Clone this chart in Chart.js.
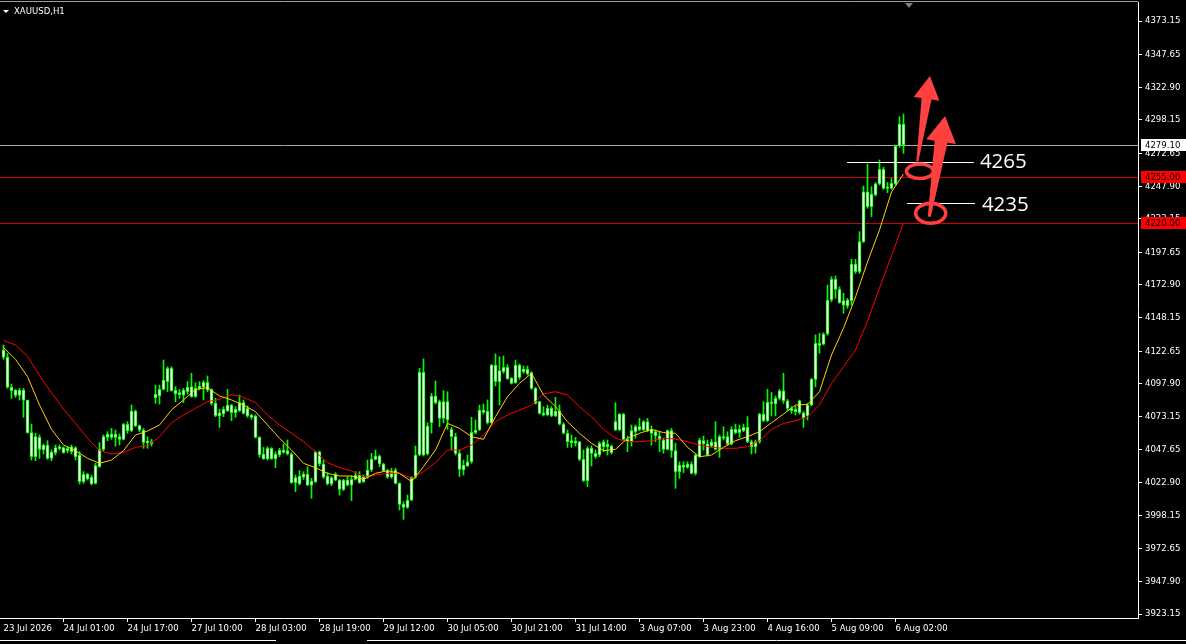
<!DOCTYPE html>
<html>
<head>
<meta charset="utf-8">
<title>XAUUSD,H1</title>
<script src="https://cdn.jsdelivr.net/npm/chart.js@4.4.0/dist/chart.umd.min.js"></script>
<style>
  html, body { margin: 0; padding: 0; background: #000; overflow: hidden; }
  canvas { display: block; }
</style>
</head>
<body>
<canvas id="chart" width="1186" height="644"></canvas>
<script>
const titulo = 'XAUUSD,H1';

// velas H1: 23 Jul 09:00 -> 6 Aug 04:00 (226 velas)
const opens = [
  4123.5, 4117.9, 4095.2, 4093.1, 4089.1, 4093.1, 4085.5, 4060.8, 4042.5, 4057.2,
  4047.6, 4051.4, 4041.3, 4045.6, 4048.6, 4049.4, 4046.9, 4050.1, 4049.4, 4043.8,
  4023.6, 4029.1, 4026.9, 4022.3, 4035.0, 4048.1, 4057.2, 4059.7, 4057.2, 4057.7,
  4055.7, 4067.1, 4062.3, 4077.2, 4066.1, 4062.8, 4053.2, 4053.9, 4087.3, 4088.6,
  4093.6, 4099.5, 4109.6, 4093.1, 4089.6, 4089.3, 4091.9, 4095.7, 4088.1, 4094.4,
  4095.2, 4099.0, 4093.6, 4083.0, 4073.4, 4074.9, 4077.2, 4081.7, 4075.9, 4077.4,
  4083.5, 4079.2, 4072.4, 4073.4, 4057.2, 4044.6, 4040.8, 4048.9, 4040.8, 4043.8,
  4045.8, 4047.1, 4044.6, 4022.8, 4021.8, 4026.9, 4029.4, 4021.0, 4023.6, 4046.3,
  4037.0, 4027.9, 4021.8, 4029.1, 4024.8, 4017.7, 4024.8, 4021.0, 4025.3, 4028.6,
  4023.6, 4026.9, 4032.4, 4040.5, 4043.0, 4037.0, 4031.9, 4026.9, 4032.4, 4022.3,
  4006.6, 4004.1, 4009.6, 4026.9, 4043.8, 4106.5, 4044.6, 4068.3, 4088.6, 4084.3,
  4071.6, 4084.3, 4063.3, 4057.7, 4045.1, 4032.4, 4035.5, 4038.7, 4060.7, 4062.8,
  4077.9, 4077.2, 4068.3, 4112.1, 4099.5, 4107.0, 4110.3, 4102.0, 4098.7, 4112.1,
  4107.0, 4108.8, 4106.3, 4094.4, 4084.3, 4075.9, 4074.2, 4079.2, 4073.4, 4077.4,
  4067.3, 4060.3, 4054.7, 4052.7, 4053.9, 4040.5, 4024.3, 4048.9, 4045.1, 4043.8,
  4053.9, 4050.1, 4050.6, 4069.1, 4062.8, 4074.9, 4055.7, 4054.0, 4061.5, 4065.3,
  4062.8, 4069.1, 4063.3, 4061.5, 4058.2, 4055.2, 4048.1, 4062.3, 4047.1, 4031.2,
  4036.2, 4034.4, 4037.0, 4029.9, 4042.5, 4054.7, 4052.2, 4050.6, 4053.9, 4048.1,
  4057.7, 4057.7, 4052.2, 4063.3, 4060.8, 4062.3, 4064.8, 4053.9, 4050.1, 4053.9,
  4074.9, 4069.8, 4083.8, 4082.5, 4086.8, 4092.6, 4085.0, 4079.2, 4076.7, 4085.0,
  4075.9, 4073.4, 4081.7, 4101.2, 4128.5, 4128.0, 4135.6, 4161.4, 4177.1, 4169.5,
  4160.9, 4156.9, 4160.9, 4188.7, 4182.9, 4205.7, 4243.6, 4232.2, 4241.1, 4249.5,
  4260.6, 4246.2, 4246.2, 4249.5, 4278.3, 4295.0
];
const highs = [
  4127.3, 4121.0, 4097.7, 4093.6, 4094.4, 4094.4, 4085.5, 4067.3, 4060.3, 4059.0,
  4052.2, 4054.7, 4047.6, 4051.4, 4051.4, 4050.1, 4050.1, 4051.4, 4050.1, 4046.3,
  4031.2, 4029.9, 4028.6, 4037.5, 4053.2, 4059.0, 4061.5, 4064.0, 4062.8, 4059.7,
  4067.8, 4069.1, 4081.8, 4078.0, 4066.6, 4064.0, 4057.7, 4055.7, 4096.9, 4096.9,
  4115.9, 4110.8, 4110.8, 4095.7, 4093.6, 4094.4, 4099.5, 4105.8, 4098.7, 4099.5,
  4100.2, 4103.8, 4094.0, 4086.8, 4078.5, 4080.5, 4093.6, 4082.2, 4080.5, 4089.3,
  4085.6, 4081.0, 4074.9, 4074.2, 4057.7, 4049.6, 4050.1, 4049.4, 4046.3, 4048.9,
  4052.2, 4055.2, 4045.6, 4028.6, 4031.9, 4031.2, 4034.9, 4026.1, 4046.8, 4046.8,
  4040.0, 4030.4, 4027.4, 4030.4, 4025.3, 4025.3, 4027.4, 4027.9, 4031.2, 4031.2,
  4028.6, 4040.0, 4045.1, 4047.6, 4043.8, 4037.5, 4032.9, 4033.7, 4033.7, 4022.8,
  4008.4, 4013.4, 4027.4, 4050.6, 4109.6, 4116.7, 4068.3, 4090.6, 4100.0, 4085.6,
  4092.6, 4091.9, 4064.8, 4060.3, 4047.6, 4040.0, 4043.8, 4072.4, 4070.4, 4081.7,
  4082.5, 4085.6, 4112.6, 4120.5, 4118.4, 4118.9, 4112.4, 4102.7, 4115.9, 4112.9,
  4111.3, 4111.3, 4107.0, 4095.2, 4084.5, 4080.5, 4081.7, 4080.5, 4087.6, 4081.7,
  4068.3, 4062.8, 4059.0, 4057.2, 4054.2, 4047.6, 4050.1, 4050.6, 4047.6, 4053.9,
  4055.2, 4055.2, 4051.4, 4083.5, 4075.4, 4075.4, 4058.2, 4066.6, 4066.6, 4071.6,
  4069.9, 4071.6, 4065.8, 4062.8, 4061.5, 4056.5, 4062.8, 4064.0, 4052.7, 4038.7,
  4038.7, 4038.7, 4038.7, 4044.6, 4056.5, 4058.2, 4055.2, 4055.7, 4069.1, 4059.0,
  4065.3, 4061.5, 4065.3, 4067.3, 4066.6, 4067.3, 4072.9, 4055.2, 4055.2, 4075.4,
  4084.3, 4093.6, 4091.3, 4088.6, 4093.6, 4105.8, 4086.0, 4080.5, 4081.0, 4085.5,
  4076.7, 4083.0, 4102.0, 4134.9, 4136.1, 4136.6, 4172.8, 4179.1, 4179.6, 4171.5,
  4166.5, 4162.7, 4192.3, 4192.3, 4213.3, 4247.9, 4264.6, 4247.4, 4250.5, 4267.7,
  4262.1, 4250.5, 4253.7, 4279.1, 4300.6, 4302.6
];
const lows = [
  4116.4, 4094.4, 4086.8, 4087.6, 4085.5, 4072.4, 4060.3, 4040.0, 4039.5, 4041.3,
  4044.6, 4040.5, 4039.5, 4043.8, 4047.6, 4045.1, 4045.6, 4044.6, 4040.0, 4021.8,
  4022.3, 4024.8, 4021.0, 4021.8, 4034.4, 4047.1, 4054.7, 4055.7, 4050.6, 4051.4,
  4055.2, 4060.3, 4061.5, 4065.3, 4061.5, 4048.9, 4048.9, 4050.6, 4083.0, 4082.5,
  4093.1, 4091.9, 4092.1, 4084.3, 4086.8, 4083.5, 4090.1, 4087.6, 4087.6, 4093.1,
  4085.6, 4091.9, 4081.7, 4072.9, 4064.8, 4072.9, 4076.7, 4069.9, 4072.4, 4076.7,
  4074.9, 4072.4, 4070.9, 4056.7, 4042.0, 4040.5, 4040.0, 4040.5, 4034.2, 4042.5,
  4045.1, 4043.8, 4022.3, 4016.0, 4021.0, 4025.3, 4020.5, 4010.9, 4022.8, 4035.5,
  4026.1, 4021.0, 4020.5, 4024.3, 4013.4, 4016.7, 4020.3, 4009.1, 4024.8, 4022.3,
  4022.8, 4026.1, 4031.2, 4040.0, 4035.0, 4031.2, 4026.1, 4026.1, 4021.8, 4002.1,
  3995.0, 4003.3, 4009.1, 4026.1, 4043.3, 4043.0, 4043.8, 4060.3, 4082.5, 4065.3,
  4068.3, 4063.3, 4047.6, 4043.8, 4027.4, 4028.6, 4035.0, 4037.5, 4059.7, 4062.3,
  4074.9, 4067.3, 4067.8, 4096.2, 4081.7, 4105.8, 4101.2, 4097.7, 4098.2, 4101.2,
  4105.8, 4104.5, 4093.6, 4082.5, 4074.9, 4073.4, 4073.4, 4072.9, 4072.9, 4066.6,
  4059.7, 4049.6, 4049.6, 4050.6, 4039.5, 4023.6, 4019.8, 4035.5, 4041.3, 4042.5,
  4046.3, 4043.8, 4044.6, 4062.3, 4062.3, 4054.7, 4046.3, 4050.6, 4056.5, 4062.3,
  4062.3, 4061.5, 4051.4, 4053.9, 4046.3, 4045.1, 4047.6, 4042.0, 4018.5, 4026.1,
  4030.4, 4033.7, 4029.4, 4028.6, 4042.0, 4047.6, 4043.0, 4049.6, 4047.6, 4042.0,
  4055.2, 4051.4, 4051.4, 4059.8, 4057.2, 4061.5, 4053.2, 4044.6, 4045.1, 4052.7,
  4069.1, 4069.1, 4073.4, 4073.4, 4085.6, 4083.0, 4077.4, 4075.4, 4074.2, 4074.9,
  4064.8, 4070.4, 4081.2, 4095.6, 4121.0, 4127.3, 4134.8, 4160.1, 4162.7, 4158.9,
  4151.3, 4155.1, 4157.6, 4181.6, 4181.6, 4204.9, 4231.0, 4224.7, 4240.3, 4248.7,
  4245.4, 4242.9, 4245.4, 4248.7, 4277.3, 4272.7
];
const closes = [
  4117.9, 4095.2, 4092.6, 4089.1, 4093.1, 4085.5, 4060.8, 4042.5, 4057.7, 4048.1,
  4051.4, 4041.3, 4046.1, 4049.4, 4050.1, 4045.6, 4048.9, 4046.3, 4042.5, 4023.6,
  4029.1, 4025.6, 4021.8, 4035.7, 4048.1, 4057.7, 4059.7, 4057.2, 4059.7, 4055.7,
  4067.1, 4062.3, 4077.2, 4065.8, 4062.8, 4053.4, 4054.4, 4052.2, 4089.8, 4093.6,
  4100.7, 4109.6, 4092.6, 4090.1, 4091.1, 4093.1, 4095.2, 4088.1, 4094.4, 4096.2,
  4099.0, 4093.1, 4083.0, 4073.7, 4075.9, 4078.5, 4081.7, 4075.9, 4078.5, 4083.5,
  4075.4, 4073.4, 4074.2, 4057.2, 4043.8, 4040.8, 4048.9, 4040.8, 4044.6, 4047.6,
  4047.6, 4044.6, 4022.8, 4026.6, 4027.9, 4029.4, 4021.0, 4024.1, 4046.3, 4037.0,
  4026.9, 4021.8, 4026.6, 4024.8, 4017.7, 4024.8, 4021.0, 4025.3, 4028.6, 4022.8,
  4027.4, 4032.4, 4040.8, 4043.0, 4037.0, 4031.9, 4026.9, 4030.4, 4022.3, 4006.4,
  4004.1, 4009.6, 4026.9, 4043.8, 4106.5, 4043.8, 4065.8, 4088.6, 4083.5, 4071.6,
  4084.3, 4070.4, 4057.7, 4045.1, 4032.9, 4036.2, 4038.7, 4061.0, 4062.8, 4077.9,
  4076.2, 4068.3, 4112.1, 4099.5, 4107.8, 4110.3, 4101.5, 4098.2, 4112.1, 4102.7,
  4109.1, 4105.3, 4094.4, 4083.0, 4075.4, 4074.2, 4079.2, 4073.4, 4077.2, 4067.3,
  4060.3, 4053.9, 4053.2, 4054.4, 4040.5, 4024.3, 4048.9, 4045.1, 4042.5, 4052.7,
  4050.1, 4052.0, 4045.6, 4062.8, 4074.9, 4055.7, 4054.0, 4062.3, 4065.3, 4062.8,
  4069.1, 4062.3, 4060.2, 4058.2, 4055.2, 4048.1, 4062.3, 4047.1, 4031.2, 4036.2,
  4034.4, 4037.0, 4029.9, 4043.8, 4055.2, 4052.2, 4043.8, 4053.9, 4048.1, 4057.7,
  4056.5, 4052.2, 4063.3, 4060.8, 4063.3, 4064.8, 4053.9, 4050.1, 4053.9, 4074.9,
  4069.8, 4083.8, 4083.0, 4086.8, 4092.6, 4085.0, 4079.2, 4077.4, 4078.4, 4075.9,
  4071.6, 4081.7, 4101.2, 4128.5, 4127.0, 4135.6, 4161.4, 4177.1, 4169.5, 4159.4,
  4157.6, 4161.4, 4188.7, 4182.9, 4205.7, 4243.6, 4232.2, 4241.9, 4249.5, 4260.6,
  4246.2, 4247.4, 4250.0, 4278.3, 4295.0, 4279.1
];

// medias móviles, una muestra cada 3 velas
const maBars = [
  0, 3, 6, 9, 12, 15, 18, 21, 24, 27, 30, 33, 36, 39, 42, 45, 48, 51, 54, 57,
  60, 63, 66, 69, 72, 75, 78, 81, 84, 87, 90, 93, 96, 99, 102, 105, 108, 111, 114, 117,
  120, 123, 126, 129, 132, 135, 138, 141, 144, 147, 150, 153, 156, 159, 162, 165, 168, 171, 174, 177,
  180, 183, 186, 189, 192, 195, 198, 201, 204, 207, 210, 213, 216, 219, 222, 225
];
const maFast = [
  4125.5, 4116.4, 4103.3, 4081.8, 4063.3, 4051.4, 4047.1, 4041.3, 4037.5, 4040.0,
  4047.1, 4059.0, 4062.0, 4066.6, 4078.0, 4085.6, 4093.6, 4094.9, 4088.6, 4085.6,
  4081.7, 4076.7, 4066.6, 4056.5, 4047.6, 4037.5, 4034.2, 4029.9, 4027.9, 4027.9,
  4025.3, 4029.9, 4031.9, 4029.9, 4023.6, 4035.0, 4047.6, 4067.8, 4064.0, 4057.7,
  4055.7, 4072.9, 4088.1, 4098.2, 4105.8, 4089.3, 4080.5, 4069.1, 4060.3, 4052.7,
  4047.1, 4048.1, 4056.5, 4060.3, 4063.3, 4060.8, 4060.3, 4049.6, 4042.5, 4043.8,
  4049.6, 4054.7, 4057.7, 4061.5, 4068.3, 4074.9, 4081.7, 4082.2, 4091.9, 4119.7,
  4140.0, 4163.7, 4190.3, 4214.6, 4243.4, 4257.0
];
const maSlow = [
  4130.6, 4127.3, 4118.9, 4104.0, 4091.1, 4078.7, 4067.8, 4056.5, 4047.1, 4044.6,
  4045.8, 4049.6, 4050.9, 4057.7, 4068.3, 4074.2, 4079.2, 4084.3, 4086.0, 4089.8,
  4087.6, 4083.5, 4074.2, 4066.6, 4060.3, 4053.9, 4046.3, 4038.0, 4034.4, 4031.7,
  4027.4, 4028.6, 4029.9, 4029.9, 4026.1, 4031.2, 4038.0, 4047.6, 4047.6, 4051.4,
  4059.0, 4069.1, 4074.2, 4077.9, 4081.7, 4090.1, 4091.9, 4089.3, 4080.5, 4072.9,
  4063.3, 4056.5, 4053.9, 4053.9, 4054.7, 4056.5, 4055.9, 4053.9, 4051.4, 4049.6,
  4048.9, 4048.9, 4050.1, 4054.7, 4063.3, 4067.8, 4069.8, 4072.9, 4081.7, 4098.2,
  4110.8, 4123.5, 4145.5, 4170.5, 4195.0, 4219.9
];

// eje de tiempo y eje de precios
const timeTickBars = [0, 15, 31, 47, 63, 79, 95, 111, 127, 143, 159, 175, 191, 207, 223];
const timeTickLabels = ['23 Jul 2026', '24 Jul 01:00', '24 Jul 17:00', '27 Jul 10:00', '28 Jul 03:00',
  '28 Jul 19:00', '29 Jul 12:00', '30 Jul 05:00', '30 Jul 21:00', '31 Jul 14:00', '3 Aug 07:00',
  '3 Aug 23:00', '4 Aug 16:00', '5 Aug 09:00', '6 Aug 02:00'];
const priceTicks = [4373.15, 4347.65, 4322.90, 4298.15, 4272.65, 4247.90, 4223.15, 4197.65, 4172.90,
  4148.15, 4122.65, 4097.90, 4073.15, 4047.65, 4022.90, 3998.15, 3972.65, 3947.90, 3923.15];

// niveles y dibujos
const bidPrice = 4279.10;
const redLevels = [4255.00, 4220.00];
const whiteLevels = [4266.0, 4234.7];
const whiteFrom = [210.9, 225.9];
const whiteTo = [242.6, 242.9];
const levelTexts = ['4265', '4235'];
const levelTextBar = [244.1, 244.6];
const levelTextPrice = [4266.2, 4233.6];

const familia = "'DejaVu Sans Condensed', 'Liberation Sans', sans-serif";
const fontTicks = '9.5px ' + familia;
const verde = '#00ff00';
const rojoDibujo = '#ff4040';

const wickData = highs.map((h, i) => ({ x: i, y: [lows[i], h] }));
const bodyData = opens.map((o, i) => ({ x: i, y: [Math.min(o, closes[i]), Math.max(o, closes[i])] }));
const fastData = maBars.map((b, k) => ({ x: b, y: maFast[k] }));
const slowData = maBars.map((b, k) => ({ x: b, y: maSlow[k] }));

function flecha(c, x0, y0, x1, y1, head, half, neck, tail) {
  const dx = x1 - x0, dy = y1 - y0, len = Math.hypot(dx, dy);
  const ux = dx / len, uy = dy / len, nx = -uy, ny = ux;
  const bx = x1 - ux * head, by = y1 - uy * head;
  c.beginPath();
  c.moveTo(x0 + nx * tail, y0 + ny * tail);
  c.lineTo(bx + nx * neck, by + ny * neck);
  c.lineTo(bx + nx * half, by + ny * half);
  c.lineTo(x1, y1);
  c.lineTo(bx - nx * half, by - ny * half);
  c.lineTo(bx - nx * neck, by - ny * neck);
  c.lineTo(x0 - nx * tail, y0 - ny * tail);
  c.closePath();
  c.fill();
}

const dibujos = {
  id: 'dibujos',
  beforeDraw(chart) {
    const c = chart.ctx;
    c.save();
    c.fillStyle = '#000';
    c.fillRect(0, 0, chart.width, chart.height);
    c.restore();
  },
  beforeDatasetsDraw(chart) {
    const { ctx: c, chartArea: a, scales: { y } } = chart;
    c.save();
    c.lineWidth = 1;
    const linea = (v, color) => {
      const py = Math.round(y.getPixelForValue(v)) + 0.5;
      c.strokeStyle = color;
      c.beginPath(); c.moveTo(a.left, py); c.lineTo(a.right, py); c.stroke();
    };
    linea(bidPrice, '#a8a8a8');
    redLevels.forEach(v => linea(v, '#d00000'));
    c.restore();
  },
  afterDatasetsDraw(chart) {
    const { ctx: c, scales: { x, y } } = chart;
    c.save();
    // líneas blancas cortas
    c.strokeStyle = '#ffffff';
    c.lineWidth = 1;
    whiteLevels.forEach((v, k) => {
      const py = Math.round(y.getPixelForValue(v)) + 0.5;
      c.beginPath();
      c.moveTo(x.getPixelForValue(whiteFrom[k]), py);
      c.lineTo(x.getPixelForValue(whiteTo[k]), py);
      c.stroke();
    });
    // textos
    c.fillStyle = '#ffffff';
    c.font = "20.5px 'Open Sans', 'Liberation Sans', sans-serif";
    c.textBaseline = 'middle';
    c.textAlign = 'left';
    levelTexts.forEach((t, k) => {
      c.fillText(t, x.getPixelForValue(levelTextBar[k]), y.getPixelForValue(levelTextPrice[k]));
    });
    // elipses
    c.strokeStyle = rojoDibujo;
    c.lineWidth = 3.5;
    c.beginPath();
    c.ellipse(x.getPixelForValue(229.1), y.getPixelForValue(4259.1), 13.5, 7.2, 0, 0, Math.PI * 2);
    c.stroke();
    c.beginPath();
    c.ellipse(x.getPixelForValue(231.8), y.getPixelForValue(4227.2), 15, 10, 0, 0, Math.PI * 2);
    c.stroke();
    // flechas
    c.fillStyle = rojoDibujo;
    flecha(c, x.getPixelForValue(228.45), y.getPixelForValue(4266.4),
      x.getPixelForValue(231.6), y.getPixelForValue(4331.4), 23, 13, 5, 1);
    flecha(c, x.getPixelForValue(231.45), y.getPixelForValue(4224.6),
      x.getPixelForValue(235.4), y.getPixelForValue(4301.1), 26, 15, 6.5, 1.5);
    c.restore();
  },
  afterDraw(chart) {
    const { ctx: c, chartArea: a, scales: { x, y } } = chart;
    c.save();
    // línea superior
    c.strokeStyle = '#a0a0a0';
    c.lineWidth = 1;
    c.beginPath(); c.moveTo(0, 1.5); c.lineTo(a.right, 1.5); c.stroke();
    // etiquetas de precio en el eje
    const etiqueta = (v, fondo, tinta) => {
      const py = Math.round(y.getPixelForValue(v));
      c.fillStyle = fondo;
      c.fillRect(a.right + 3, py - 6, chart.width - a.right - 3, 12);
      c.fillStyle = tinta;
      c.font = fontTicks;
      c.textBaseline = 'middle';
      c.textAlign = 'left';
      c.fillText(v.toFixed(2), a.right + 7, py + 0.5);
    };
    etiqueta(bidPrice, '#ffffff', '#000000');
    redLevels.forEach(v => etiqueta(v, '#ff0000', '#000000'));
    // título
    c.fillStyle = '#ffffff';
    c.beginPath(); c.moveTo(3, 10); c.lineTo(9, 10); c.lineTo(6, 13); c.closePath(); c.fill();
    c.font = fontTicks;
    c.textBaseline = 'middle';
    c.fillText(titulo, 14, 12);
    // marcador de desplazamiento
    const mx = Math.round(x.getPixelForValue(226.3));
    c.fillStyle = '#808080';
    c.beginPath(); c.moveTo(mx - 4, 3); c.lineTo(mx + 4, 3); c.lineTo(mx, 8); c.closePath(); c.fill();
    // pestañas inferiores
    c.strokeStyle = '#ffffff';
    c.beginPath();
    c.moveTo(0, 640.5); c.lineTo(276, 640.5);
    c.moveTo(367, 640.5); c.lineTo(chart.width, 640.5);
    c.stroke();
    c.restore();
  }
};

new Chart(document.getElementById('chart'), {
  type: 'bar',
  data: {
    datasets: [
      { type: 'line', data: fastData, borderColor: '#ffd200', borderWidth: 1, pointRadius: 0, tension: 0, order: 0 },
      { type: 'line', data: slowData, borderColor: '#ff0000', borderWidth: 1, pointRadius: 0, tension: 0, order: 1 },
      { data: bodyData, backgroundColor: '#ffffff', borderColor: verde, borderWidth: 1, borderSkipped: false,
        barThickness: 3, grouped: false, minBarLength: 1, order: 2 },
      { data: wickData, backgroundColor: verde, borderWidth: 0, barThickness: 1, grouped: false, order: 3 }
    ]
  },
  options: {
    responsive: false,
    animation: false,
    devicePixelRatio: 1,
    events: [],
    layout: { padding: { top: 2, left: 0, right: 0, bottom: 0 } },
    plugins: { legend: { display: false }, tooltip: { enabled: false } },
    scales: {
      x: {
        type: 'linear',
        min: -0.875,
        max: 283.625,
        offset: false,
        afterBuildTicks: s => { s.ticks = timeTickBars.map(v => ({ value: v })); },
        afterFit: s => { s.height = 26; s.paddingLeft = 0; s.paddingRight = 0; },
        ticks: {
          autoSkip: false, maxRotation: 0, align: 'start', padding: 1,
          color: '#ffffff', font: { family: familia, size: 9.5 },
          callback: (v, i) => timeTickLabels[i]
        },
        grid: {
          drawOnChartArea: false, drawTicks: true, tickLength: 4, offset: false,
          tickColor: ctx => ctx.index === 0 ? 'rgba(0,0,0,0)' : '#ffffff'
        },
        border: { display: true, color: '#ffffff', width: 1 }
      },
      y: {
        type: 'linear',
        position: 'right',
        min: 3920.12,
        max: 4387.57,
        afterBuildTicks: s => { s.ticks = priceTicks.map(v => ({ value: v })); },
        afterFit: s => { s.width = 48; s.paddingTop = 0; s.paddingBottom = 0; },
        ticks: {
          autoSkip: false, padding: 3,
          color: '#ffffff', font: { family: familia, size: 9.5 },
          callback: v => v.toFixed(2)
        },
        grid: { drawOnChartArea: false, drawTicks: true, tickLength: 4, tickColor: '#ffffff' },
        border: { display: true, color: '#ffffff', width: 1 }
      }
    }
  },
  plugins: [dibujos]
});
</script>
</body>
</html>
